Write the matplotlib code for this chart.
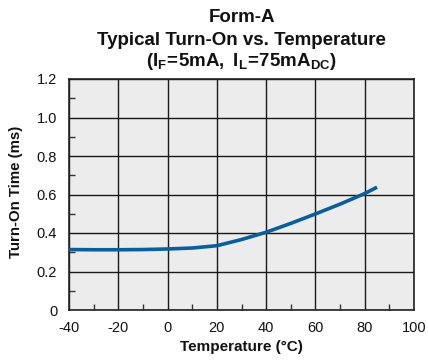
import matplotlib
matplotlib.use("Agg")
import matplotlib.pyplot as plt
from matplotlib.ticker import MultipleLocator

plt.rcParams['font.family'] = ['Liberation Sans', 'DejaVu Sans']
plt.rcParams['axes.unicode_minus'] = False
plt.rcParams['mathtext.fontset'] = 'custom'
plt.rcParams['mathtext.rm'] = 'Liberation Sans:bold'
plt.rcParams['mathtext.bf'] = 'Liberation Sans:bold'
plt.rcParams['mathtext.it'] = 'Liberation Sans:bold'

temperature = [-40, -30, -20, -10, 0, 10, 20, 30, 40, 50, 60, 70, 80, 85]
turn_on_ms = [0.314, 0.313, 0.313, 0.314, 0.317, 0.322, 0.334, 0.366, 0.404, 0.450, 0.499, 0.550, 0.605, 0.638]

x_ticks = [-40, -20, 0, 20, 40, 60, 80, 100]
y_ticks = [0, 0.2, 0.4, 0.6, 0.8, 1.0, 1.2]
y_tick_labels = ['0', '0.2', '0.4', '0.6', '0.8', '1.0', '1.2']

W, H = 428, 362
fig = plt.figure(figsize=(W / 100, H / 100), dpi=100)
left, right, top, bottom = 69, 414, 79, 310
ax = fig.add_axes([left / W, 1 - bottom / H, (right - left) / W, (bottom - top) / H])
ax.set_facecolor('#ececec')

ax.plot(temperature, turn_on_ms, color='#0b5e9c', lw=2.6, solid_capstyle='butt', zorder=3)

ax.set_xlim(-40, 100)
ax.set_ylim(0, 1.2)
ax.set_xticks(x_ticks)
ax.set_yticks(y_ticks)
ax.set_yticklabels(y_tick_labels)
ax.xaxis.set_minor_locator(MultipleLocator(10))
ax.yaxis.set_minor_locator(MultipleLocator(0.1))
ax.grid(True, which='major', color='#1a1a1a', lw=1.0, zorder=1)
ax.set_axisbelow(True)
ax.tick_params(which='major', length=0, labelsize=10.5, colors='#111111')
ax.tick_params(axis='y', which='major', pad=8.5)
ax.tick_params(axis='x', which='major', pad=8)
ax.tick_params(which='minor', direction='in', length=4, width=1, color='#333333')
for s in ax.spines.values():
    s.set_color('#222222')
    s.set_linewidth(1.2)

cx = (left + right) / 2 / W
fig.text(cx, 1 - 351 / H, 'Temperature (°C)', ha='center', va='baseline',
         fontsize=11, fontweight='bold', color='#111111')
fig.text(16 / W, 1 - 192 / H, 'Turn-On Time (ms)', ha='center', va='center',
         rotation=90, fontsize=10.8, fontweight='bold', color='#111111')

fig.text(cx, 1 - 22 / H, 'Form-A', ha='center', va='baseline',
         fontsize=13.5, fontweight='bold', color='#111111')
fig.text(cx, 1 - 45 / H, 'Typical Turn-On vs. Temperature', ha='center', va='baseline',
         fontsize=13.5, fontweight='bold', color='#111111')
fig.text(cx, 1 - 66 / H, r'$\mathrm{(I_F\!=\!5mA,\ I_L\!=\!75mA_{DC})}$', ha='center', va='baseline',
         fontsize=13.5, fontweight='bold', color='#111111')

fig.savefig('out.png', dpi=100)
